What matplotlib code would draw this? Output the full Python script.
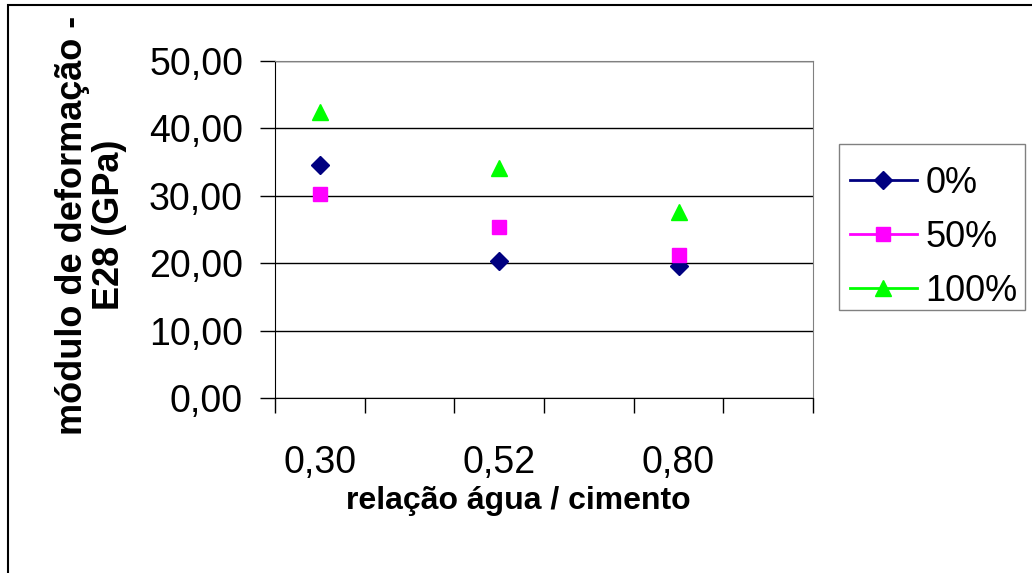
import matplotlib.pyplot as plt
from matplotlib.lines import Line2D
from matplotlib.patches import Rectangle

plt.rcParams['font.family'] = ['Liberation Sans', 'DejaVu Sans']

# dados
relacao = ["0,30", "0,52", "0,80"]
e28_0 = [34.5, 20.3, 19.6]
e28_50 = [30.3, 25.3, 21.2]
e28_100 = [42.5, 34.1, 27.6]
series_labels = ["0%", "50%", "100%"]

cores = ["#000080", "#FF00FF", "#00FF00"]
marcadores = ["D", "s", "^"]
tamanhos = [9.5, 10, 12]

W, H = 1032, 573
fig = plt.figure(figsize=(W / 100, H / 100), dpi=100)
ax = fig.add_axes([275 / W, 1 - 398 / H, (813 - 275) / W, (398 - 61) / H])

# eixo de categorias com 6 posicoes, dados nas posicoes 0, 2, 4
pos = [0.5, 2.5, 4.5]
handles = []
for vals, cor, mk, ms, lab in zip([e28_0, e28_50, e28_100], cores, marcadores, tamanhos, series_labels):
    ax.plot(pos, vals, ls="none", marker=mk, ms=ms, color=cor, mec=cor)
    handles.append(Line2D([], [], color=cor, lw=2, marker=mk, ms=ms, mec=cor, label=lab))

ax.set_xlim(0, 6)
ax.set_ylim(0, 50)
ax.set_yticks(range(0, 51, 10))
ax.set_yticklabels([f"{v:.2f}".replace(".", ",") for v in range(0, 51, 10)], fontsize=27)
ax.set_xticks(range(0, 7))
ax.set_xticklabels([])
ax.set_xticks(pos, minor=True)
ax.set_xticklabels(relacao, minor=True, fontsize=27)
ax.tick_params(axis="x", which="minor", length=0, pad=34)
ax.tick_params(axis="both", which="major", direction="out", length=11, width=1, color="black")
ax.tick_params(axis="y", pad=12)

ax.grid(axis="y", color="black", lw=1)
ax.set_axisbelow(True)
for s in ["top", "right"]:
    ax.spines[s].set_color("#808080")
for s in ["left", "bottom"]:
    ax.spines[s].set_color("black")

fig.text(518 / W, 1 - 501 / H, "relação água / cimento", fontsize=23, fontweight="bold",
         ha="center", va="center")
fig.text(91 / W, 1 - 225 / H, "módulo de deformação -\nE28 (GPa)", fontsize=26,
         fontweight="bold", rotation=90, ha="center", va="center", multialignment="center",
         linespacing=1.1)

# legenda sem moldura, caixa desenhada a parte
leg = fig.legend(handles=handles, loc="upper left", bbox_to_anchor=(839 / W, 1 - 155 / H),
                 fontsize=26, frameon=False, handlelength=1.85, borderpad=0.3,
                 labelspacing=0.53, handletextpad=0.25, borderaxespad=0)
fig.patches.append(Rectangle((839 / W, 1 - 310 / H), 186 / W, 166 / H, transform=fig.transFigure,
                             fill=False, edgecolor="#808080", lw=1))

# moldura externa do grafico
fig.patches.append(Rectangle((8 / W, -0.1), 1.1, 1.1 - 5 / H, transform=fig.transFigure,
                             fill=False, edgecolor="black", lw=1.5))

fig.savefig("out.png", dpi=100)
